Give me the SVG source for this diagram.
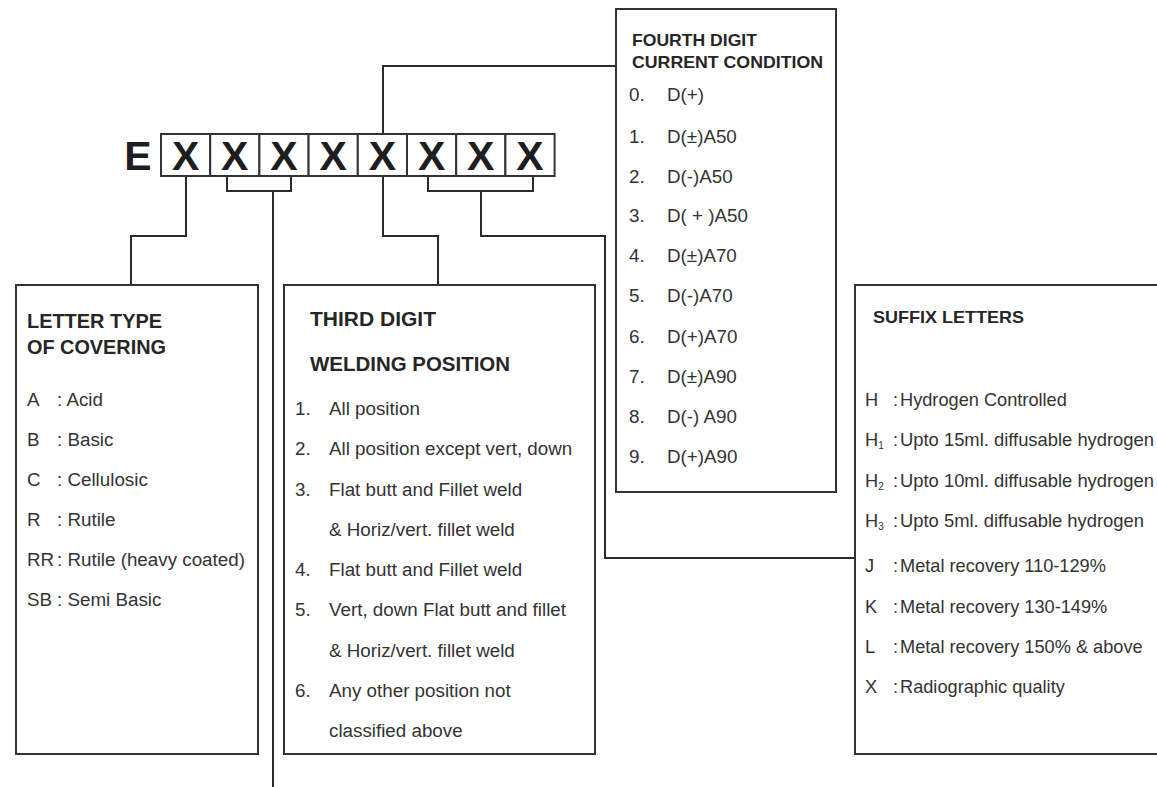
<svg xmlns="http://www.w3.org/2000/svg" width="1157" height="787" viewBox="0 0 1157 787">
<style>
.bx{fill:#fff;stroke:#333;stroke-width:2}
.cn{fill:none;stroke:#2b2b2b;stroke-width:2}
.hd{font-family:"Liberation Sans",Arial,sans-serif;font-weight:bold;fill:#262626}
.tx{font-family:"Liberation Sans",Arial,sans-serif;font-size:18.8px;fill:#333}
.sx{font-family:"Liberation Sans",Arial,sans-serif;font-size:18.2px;fill:#333}
.big{font-family:"Liberation Sans",Arial,sans-serif;font-weight:bold;font-size:41px;fill:#1e1e1e;text-anchor:middle}
.sub{font-size:10px}
</style>
<rect width="1157" height="787" fill="#fff"/>
<g id="connectors">
<path class="cn" d="M186,176 V236 H131 V285"/>
<path class="cn" d="M227,176 V191 H291 V176"/>
<path class="cn" d="M273,191 V787"/>
<path class="cn" d="M383,134 V66 H616"/>
<path class="cn" d="M383,176 V236 H438 V285"/>
<path class="cn" d="M428,176 V191 H533 V176"/>
<path class="cn" d="M481,191 V236 H605 V558 H855"/>
</g>
<g id="code">
<text class="big" x="138" y="170">E</text>
<rect class="bx" x="161" y="134" width="49.2" height="42"/>
<rect class="bx" x="210.2" y="134" width="49.2" height="42"/>
<rect class="bx" x="259.4" y="134" width="49.2" height="42"/>
<rect class="bx" x="308.6" y="134" width="49.2" height="42"/>
<rect class="bx" x="357.8" y="134" width="49.2" height="42"/>
<rect class="bx" x="407" y="134" width="49.2" height="42"/>
<rect class="bx" x="456.2" y="134" width="49.2" height="42"/>
<rect class="bx" x="505.4" y="134" width="49.2" height="42"/>
<text class="big" x="185.6" y="170">X</text>
<text class="big" x="234.8" y="170">X</text>
<text class="big" x="284" y="170">X</text>
<text class="big" x="333.2" y="170">X</text>
<text class="big" x="382.4" y="170">X</text>
<text class="big" x="431.6" y="170">X</text>
<text class="big" x="480.8" y="170">X</text>
<text class="big" x="530" y="170">X</text>
</g>
<g id="fourth-digit">
<rect class="bx" x="616" y="9" width="220" height="483"/>
<text class="hd" x="632" y="46" font-size="16.5" textLength="125" lengthAdjust="spacingAndGlyphs">FOURTH DIGIT</text>
<text class="hd" x="632" y="68" font-size="16.5" textLength="191" lengthAdjust="spacingAndGlyphs">CURRENT CONDITION</text>
<text class="tx" x="629" y="101">0.</text><text class="tx" x="667" y="101">D(+)</text>
<text class="tx" x="629" y="143">1.</text><text class="tx" x="667" y="143">D(±)A50</text>
<text class="tx" x="629" y="183">2.</text><text class="tx" x="667" y="183">D(-)A50</text>
<text class="tx" x="629" y="222">3.</text><text class="tx" x="667" y="222">D( + )A50</text>
<text class="tx" x="629" y="262">4.</text><text class="tx" x="667" y="262">D(±)A70</text>
<text class="tx" x="629" y="302">5.</text><text class="tx" x="667" y="302">D(-)A70</text>
<text class="tx" x="629" y="343">6.</text><text class="tx" x="667" y="343">D(+)A70</text>
<text class="tx" x="629" y="383">7.</text><text class="tx" x="667" y="383">D(±)A90</text>
<text class="tx" x="629" y="423">8.</text><text class="tx" x="667" y="423">D(-) A90</text>
<text class="tx" x="629" y="463">9.</text><text class="tx" x="667" y="463">D(+)A90</text>
</g>
<g id="letter-type">
<rect class="bx" x="16" y="285" width="242" height="469"/>
<text class="hd" x="27" y="328" font-size="20" textLength="135" lengthAdjust="spacingAndGlyphs">LETTER TYPE</text>
<text class="hd" x="27" y="354" font-size="20" textLength="139" lengthAdjust="spacingAndGlyphs">OF COVERING</text>
<text class="tx" x="27" y="406">A</text><text class="tx" x="57" y="406">: Acid</text>
<text class="tx" x="27" y="446">B</text><text class="tx" x="57" y="446">: Basic</text>
<text class="tx" x="27" y="486">C</text><text class="tx" x="57" y="486">: Cellulosic</text>
<text class="tx" x="27" y="526">R</text><text class="tx" x="57" y="526">: Rutile</text>
<text class="tx" x="27" y="566">RR</text><text class="tx" x="57" y="566">: Rutile (heavy coated)</text>
<text class="tx" x="27" y="606">SB</text><text class="tx" x="57" y="606">: Semi Basic</text>
</g>
<g id="third-digit">
<rect class="bx" x="284" y="285" width="311" height="469"/>
<text class="hd" x="310" y="326" font-size="20" textLength="126" lengthAdjust="spacingAndGlyphs">THIRD DIGIT</text>
<text class="hd" x="310" y="371" font-size="20" textLength="200" lengthAdjust="spacingAndGlyphs">WELDING POSITION</text>
<text class="tx" x="295" y="415">1.</text><text class="tx" x="329" y="415">All position</text>
<text class="tx" x="295" y="455">2.</text><text class="tx" x="329" y="455">All position except vert, down</text>
<text class="tx" x="295" y="496">3.</text><text class="tx" x="329" y="496">Flat butt and Fillet weld</text>
<text class="tx" x="329" y="536">&amp; Horiz/vert. fillet weld</text>
<text class="tx" x="295" y="576">4.</text><text class="tx" x="329" y="576">Flat butt and Fillet weld</text>
<text class="tx" x="295" y="616">5.</text><text class="tx" x="329" y="616">Vert, down Flat butt and fillet</text>
<text class="tx" x="329" y="657">&amp; Horiz/vert. fillet weld</text>
<text class="tx" x="295" y="697">6.</text><text class="tx" x="329" y="697">Any other position not</text>
<text class="tx" x="329" y="737">classified above</text>
</g>
<g id="suffix-letters">
<rect class="bx" x="855" y="285" width="320" height="469"/>
<text class="hd" x="873" y="323" font-size="16.5" textLength="151" lengthAdjust="spacingAndGlyphs">SUFFIX LETTERS</text>
<text class="sx" x="865" y="406">H</text><text class="sx" x="893" y="406">:</text><text class="sx" x="900" y="406">Hydrogen Controlled</text>
<text class="sx" x="865" y="446">H<tspan class="sub" dy="3">1</tspan></text><text class="sx" x="893" y="446">:</text><text class="sx" x="900" y="446" textLength="254" lengthAdjust="spacingAndGlyphs">Upto 15ml. diffusable hydrogen</text>
<text class="sx" x="865" y="487">H<tspan class="sub" dy="3">2</tspan></text><text class="sx" x="893" y="487">:</text><text class="sx" x="900" y="487" textLength="254" lengthAdjust="spacingAndGlyphs">Upto 10ml. diffusable hydrogen</text>
<text class="sx" x="865" y="527">H<tspan class="sub" dy="3">3</tspan></text><text class="sx" x="893" y="527">:</text><text class="sx" x="900" y="527" textLength="244" lengthAdjust="spacingAndGlyphs">Upto 5ml. diffusable hydrogen</text>
<text class="sx" x="865" y="572">J</text><text class="sx" x="893" y="572">:</text><text class="sx" x="900" y="572">Metal recovery 110-129%</text>
<text class="sx" x="865" y="613">K</text><text class="sx" x="893" y="613">:</text><text class="sx" x="900" y="613">Metal recovery 130-149%</text>
<text class="sx" x="865" y="653">L</text><text class="sx" x="893" y="653">:</text><text class="sx" x="900" y="653">Metal recovery 150% &amp; above</text>
<text class="sx" x="865" y="693">X</text><text class="sx" x="893" y="693">:</text><text class="sx" x="900" y="693">Radiographic quality</text>
</g>
</svg>
